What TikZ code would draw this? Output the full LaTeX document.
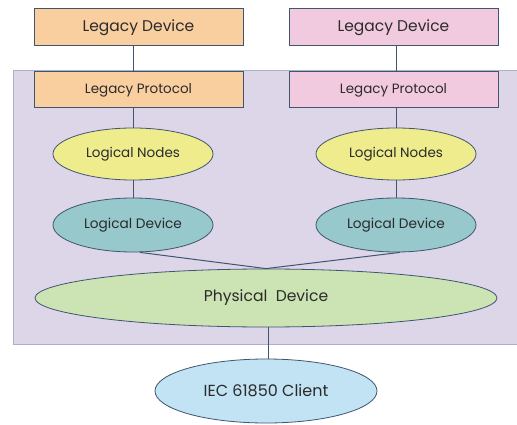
\documentclass[tikz,border=0pt]{standalone}
\usepackage{fontspec}
\setmainfont{Poppins}
\usetikzlibrary{shapes.geometric,positioning}
\definecolor{edgeblue}{HTML}{3F5670}
\definecolor{panelbg}{HTML}{DDD5E8}
\definecolor{panelline}{HTML}{A8B3C9}
\definecolor{legacyA}{HTML}{F9CFA0}
\definecolor{legacyB}{HTML}{F2CADF}
\definecolor{lnyellow}{HTML}{EEEC8C}
\definecolor{ldteal}{HTML}{97C8CB}
\definecolor{pdgreen}{HTML}{CCE3B4}
\definecolor{clblue}{HTML}{C2E3F4}
\definecolor{txtgrey}{HTML}{2B2B2B}
\tikzset{
	box/.style={draw=edgeblue, line width=1pt, rectangle, minimum width=209pt, minimum height=37pt, inner sep=0pt, text=txtgrey},
	oval/.style={draw=edgeblue, line width=0.8pt, ellipse, inner sep=0pt, text=txtgrey},
	link/.style={draw=edgeblue, line width=1pt}
}
\begin{document}
\begin{tikzpicture}[x=1pt,y=1pt]
				\useasboundingbox (0,0) rectangle (517,424);
				\fill[panelbg] (13,80) rectangle (517,353);
				\draw[panelline, line width=1pt] (517,353)--(13,353)--(13,80)--(517,80);
				\node[box, fill=legacyA] (ldevA) at (138.5,396.5) {\fontsize{15.5}{17}\selectfont Legacy Device};
				\node[box, fill=legacyB] (ldevB) at (393.5,396.5) {\fontsize{15.5}{17}\selectfont Legacy Device};
				\node[box, fill=legacyA, minimum height=36pt] (lprotA) at (138.5,334) {\fontsize{13.5}{15}\selectfont Legacy Protocol};
				\node[box, fill=legacyB, minimum height=36pt] (lprotB) at (393.5,334) {\fontsize{13.5}{15}\selectfont Legacy Protocol};
				\node[oval, fill=lnyellow, minimum width=160pt, minimum height=52pt] (lnA) at (133,270) {\fontsize{13.5}{15}\selectfont Logical Nodes};
				\node[oval, fill=lnyellow, minimum width=160pt, minimum height=52pt] (lnB) at (396,270) {\fontsize{13.5}{15}\selectfont Logical Nodes};
				\node[oval, fill=ldteal, minimum width=160pt, minimum height=54pt] (lgdA) at (133,199) {\fontsize{13.7}{15}\selectfont Logical Device};
				\node[oval, fill=ldteal, minimum width=160pt, minimum height=54pt] (lgdB) at (396,199) {\fontsize{13.7}{15}\selectfont Logical Device};
				\node[oval, fill=pdgreen, minimum width=462pt, minimum height=58pt] (pdev) at (266,126) {\fontsize{15.6}{17}\selectfont Physical\ \ Device};
				\node[oval, fill=clblue, minimum width=222pt, minimum height=64pt] (client) at (266,33) {\fontsize{16}{18}\selectfont IEC 61850 Client};
				\draw[link] (ldevA.south -| lnA.north)--(lprotA.north -| lnA.north);
				\draw[link] (ldevB.south -| lnB.north)--(lprotB.north -| lnB.north);
				\draw[link] (lprotA.south -| lnA.north)--(lnA.north);
				\draw[link] (lprotB.south -| lnB.north)--(lnB.north);
				\draw[link] (lnA)--(lgdA);
				\draw[link] (lnB)--(lgdB);
				\draw[link] ([xshift=7pt]lgdA.south)--(pdev.north);
				\draw[link] ([xshift=4pt]lgdB.south)--(pdev.north);
				\draw[link] ([xshift=2pt]pdev.south)--([xshift=2pt]client.north);
			\end{tikzpicture}
\end{document}
